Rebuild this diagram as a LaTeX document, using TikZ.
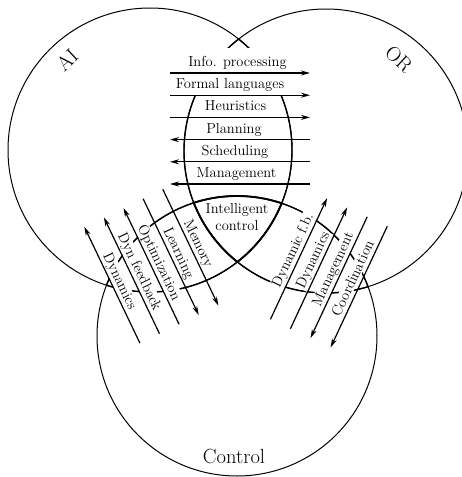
\documentclass[tikz,border=0pt]{standalone}
\usepackage{fontspec}
\usetikzlibrary{arrows.meta}
\begin{document}
\begin{tikzpicture}[x=1pt,y=-1pt,
  ring/.style={line width=1pt},
  inner ring/.style={line width=1.4pt},
  corebound/.style={line width=1.9pt},
  flow/.style={line width=1.2pt,-{Stealth[length=9pt,width=5pt]}},
  lbl/.style={font=\fontsize{14.5}{17}\selectfont, inner sep=1pt, anchor=base},
  masked/.style={fill=white},
  big/.style={font=\fontsize{20.5}{24}\selectfont, inner sep=0pt}
]
\useasboundingbox (0,0) rectangle (462,477);

% --- the three fields ---
\coordinate (ai) at (150,150);
\coordinate (or) at (326,151);
\coordinate (ct) at (237,336);
\draw[ring] (ai) circle[radius=142pt];
\draw[ring] (or) circle[radius=142pt];
\draw[ring] (ct) circle[radius=140pt];

% inner boundaries slightly heavier
\begin{scope}
  \clip (or) circle[radius=142pt] (ct) circle[radius=140pt];
  \draw[inner ring] (ai) circle[radius=142pt];
\end{scope}
\begin{scope}
  \clip (ai) circle[radius=142pt] (ct) circle[radius=140pt];
  \draw[inner ring] (or) circle[radius=142pt];
\end{scope}
\begin{scope}
  \clip (ai) circle[radius=142pt] (or) circle[radius=142pt];
  \draw[inner ring] (ct) circle[radius=140pt];
\end{scope}

% outline of the common region
\begin{scope}
  \clip (ai) circle[radius=142pt];
  \clip (or) circle[radius=142pt];
  \draw[corebound] (ct) circle[radius=140pt];
\end{scope}
\begin{scope}
  \clip (ai) circle[radius=142pt];
  \clip (ct) circle[radius=140pt];
  \draw[corebound] (or) circle[radius=142pt];
\end{scope}
\begin{scope}
  \clip (or) circle[radius=142pt];
  \clip (ct) circle[radius=140pt];
  \draw[corebound] (ai) circle[radius=142pt];
\end{scope}

% --- field names ---
\node[big, rotate=43] (nameAI) at (67,60) {AI};
\node[big, rotate=-43] (nameOR) at (399,59) {OR};
\node[big, anchor=base] (nameCtl) at (234,463) {Control};
\node[lbl, anchor=center, align=center] (core) at (237,217) {Intelligent\\control};

% --- horizontal flows between AI and OR ---
\node[lbl, masked, text height=16pt, text depth=3pt, inner ysep=3pt] (hInfo) at (237.5,66.5) {Info. processing};
\node[lbl, masked, text height=12pt, text depth=3pt, inner ysep=3pt] (hForm) at (230,88.7) {Formal languages};
\node[lbl] (hHeur) at (235.5,110.9) {Heuristics};
\node[lbl] (hPlan) at (234,133.1) {Planning};
\node[lbl] (hSched) at (235,155.3) {Scheduling};
\node[lbl] (hMgmt) at (236.5,177.5) {Management};

\coordinate (h1l) at (170,73);    \coordinate (h1r) at (310,73);
\coordinate (h2l) at (170,95.2);  \coordinate (h2r) at (310,95.2);
\coordinate (h3l) at (170,117.4); \coordinate (h3r) at (310,117.4);
\coordinate (h4l) at (170,139.6); \coordinate (h4r) at (310,139.6);
\coordinate (h5l) at (170,161.8); \coordinate (h5r) at (310,161.8);
\coordinate (h6l) at (170,184);   \coordinate (h6r) at (310,184);

% --- slanted flows between AI and Control ---
\node[lbl, masked, rotate=-64.5] (lDyn)  at (116.1,283.0) {Dynamics};
\node[lbl, masked, rotate=-64.5] (lFb)   at (135.8,273.7) {Dyn feedback};
\node[lbl, masked, rotate=-64.5] (lOpt)  at (155.4,264.3) {Optimization};
\node[lbl, masked, rotate=-64.5] (lLrn)  at (175.0,254.9) {Learning};
\node[lbl, masked, rotate=-64.5] (lMem)  at (194.6,245.5) {Memory};

\coordinate (aT) at (84.3,226.8);  \coordinate (aB) at (139.9,343.1);
\coordinate (bT) at (103.9,217.4); \coordinate (bB) at (159.5,333.7);
\coordinate (cT) at (123.5,208.0); \coordinate (cB) at (179.1,324.3);
\coordinate (dT) at (143.1,198.7); \coordinate (dB) at (198.7,315.0);
\coordinate (eT) at (162.8,189.3); \coordinate (eB) at (218.4,305.6);

% --- slanted flows between OR and Control ---
\node[lbl, masked, rotate=65] (rDfb)  at (296.7,252.2) {Dynamic f.b.};
\node[lbl, masked, rotate=65] (rDyn)  at (316.8,261.6) {Dynamics};
\node[lbl, masked, rotate=65] (rMgmt) at (336.9,271.0) {Management};
\node[lbl, masked, rotate=65] (rCoord) at (357.0,280.4) {Coordination};

\coordinate (r1B) at (270.4,319.4); \coordinate (r1T) at (327.1,198.1);
\coordinate (r2B) at (290.4,328.7); \coordinate (r2T) at (347.1,207.4);
\coordinate (r3B) at (310.5,338.1); \coordinate (r3T) at (367.2,216.8);
\coordinate (r4B) at (330.6,347.5); \coordinate (r4T) at (387.3,226.2);

% arrows
\draw[flow] (h1l) -- (h1r);
\draw[flow] (h2l) -- (h2r);
\draw[flow] (h3l) -- (h3r);
\draw[flow] (h4r) -- (h4l);
\draw[flow] (h5r) -- (h5l);
\draw[flow] (h6r) -- (h6l);

\draw[flow] (aB) -- (aT);
\draw[flow] (bB) -- (bT);
\draw[flow] (cB) -- (cT);
\draw[flow] (dT) -- (dB);
\draw[flow] (eT) -- (eB);

\draw[flow] (r1B) -- (r1T);
\draw[flow] (r2B) -- (r2T);
\draw[flow] (r3T) -- (r3B);
\draw[flow] (r4T) -- (r4B);
\end{tikzpicture}
\end{document}
